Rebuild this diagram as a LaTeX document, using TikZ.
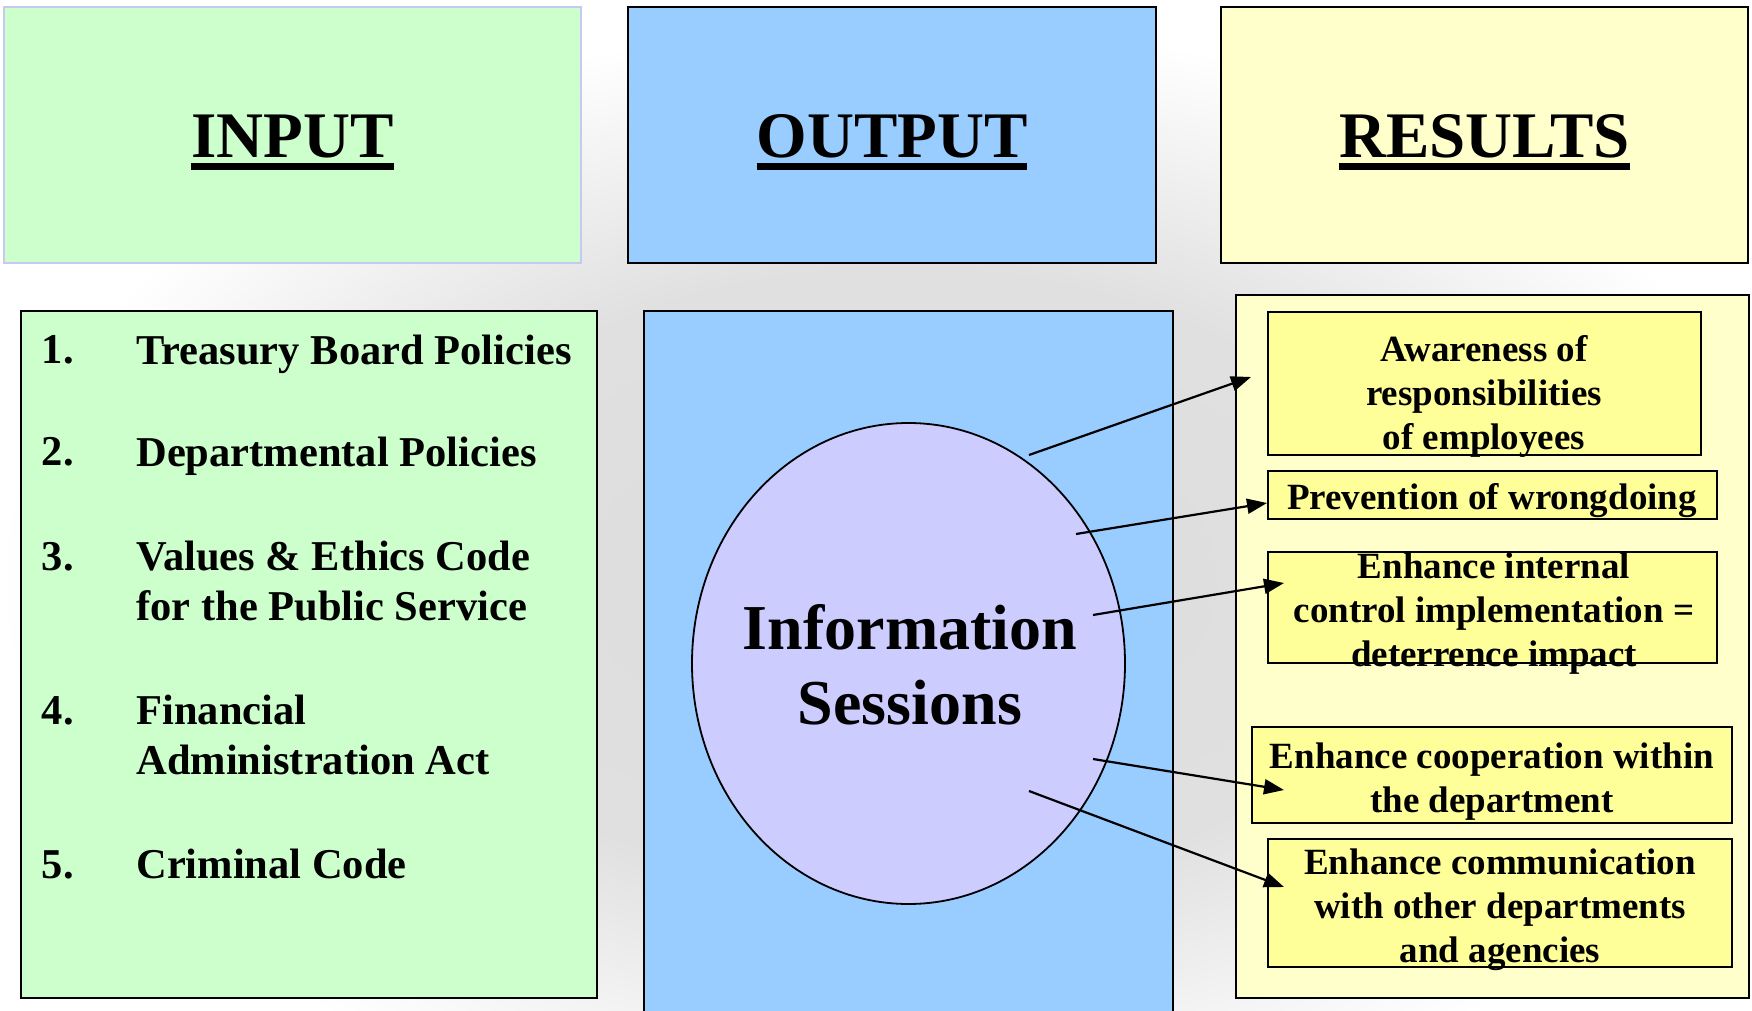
\documentclass[tikz,border=0pt]{standalone}
\usepackage{fontspec}
\setmainfont{Liberation Serif}
\usetikzlibrary{arrows.meta,shapes.geometric}
\definecolor{inpgreen}{HTML}{CCFFCC}
\definecolor{inpedge}{HTML}{C8C8F4}
\definecolor{outblue}{HTML}{99CCFF}
\definecolor{resyellow}{HTML}{FFFFCC}
\definecolor{boxyellow}{HTML}{FFFF99}
\definecolor{sessviolet}{HTML}{CCCCFF}
\newsavebox\ulbox
\newcommand\thickul[1]{\sbox\ulbox{#1}\usebox\ulbox\llap{\rule[-6pt]{\wd\ulbox}{3.4pt}}}
\pgfdeclareradialshading{watermark}{\pgfpoint{0bp}{0bp}}{color(0bp)=(black!14); color(14bp)=(black!12); color(25bp)=(white); color(50bp)=(white)}
\begin{document}
\begin{tikzpicture}[x=0.5pt,y=-0.5pt,
  panel/.style={draw=black, line width=1pt, inner sep=0pt, outer sep=0pt, anchor=north west, rectangle},
  resbox/.style={panel, fill=boxyellow},
  head/.style={font=\fontsize{32.5}{39}\selectfont\bfseries, inner sep=0pt, anchor=base},
  itemtxt/.style={font=\fontsize{21.25}{25}\selectfont\bfseries, inner sep=0pt, align=left, anchor=north west},
  num/.style={font=\fontsize{21.25}{25}\selectfont\bfseries, inner sep=0pt, anchor=base west},
  restext/.style={font=\fontsize{18.5}{22}\selectfont\bfseries, inner sep=0pt, align=center, anchor=north},
  arr/.style={line width=1.1pt, -{Triangle[length=10pt,width=7.5pt]}},
]
\useasboundingbox (0,0) rectangle (1752,1011);
\clip (0,0) rectangle (1752,1011);
\fill[white] (0,0) rectangle (1752,1011);
% faded background watermark
\shade[shading=watermark] (900,580) ellipse [x radius=450pt, y radius=280pt];

% top header boxes
\node[panel, draw=inpedge, fill=inpgreen, minimum width=288.5pt, minimum height=128pt] (inhead) at (4,7) {};
\node[panel, fill=outblue, minimum width=264pt, minimum height=128pt] (outhead) at (628,7) {};
\node[panel, fill=resyellow, minimum width=263.5pt, minimum height=128pt] (reshead) at (1221,7) {};
\node[head] (inlabel) at (292.5,158) {\thickul{INPUT}};
\node[head] (outlabel) at (892,158) {\thickul{OUTPUT}};
\node[head] (reslabel) at (1484.5,158) {\thickul{RESULTS}};

% lower panels
\node[panel, fill=inpgreen, minimum width=288pt, minimum height=343.5pt] (inbody) at (21,311) {};
\node[panel, fill=outblue, minimum width=264.5pt, minimum height=370pt] (outbody) at (644,311) {};
\node[panel, fill=resyellow, minimum width=256.5pt, minimum height=351.5pt] (resbody) at (1236,295) {};

% input list
\node[num] (n1) at (41.5,363.5) {1.};
\node[itemtxt] (i1) at (136,334.5) {Treasury Board Policies};
\node[num] (n2) at (41.5,465.5) {2.};
\node[itemtxt] (i2) at (136,436.5) {Departmental Policies};
\node[num] (n3) at (41.5,570) {3.};
\node[itemtxt] (i3) at (136,541) {Values \& Ethics Code\\for the Public Service};
\node[num] (n4) at (41.5,724) {4.};
\node[itemtxt] (i4) at (136,695) {Financial\\Administration Act};
\node[num] (n5) at (41.5,878) {5.};
\node[itemtxt] (i5) at (136,849) {Criminal Code};

% information sessions
\node[ellipse, draw=black, line width=0.9pt, fill=sessviolet, inner sep=0pt, minimum width=216.5pt, minimum height=240.5pt] (sess) at (908.5,663.5) {};
\node[font=\fontsize{32}{37.5}\selectfont\bfseries, inner sep=0pt, align=center, anchor=north] (sesstxt) at (910,604) {Information\\Sessions};

% result boxes
\node[resbox, minimum width=216.5pt, minimum height=71.5pt] (r1) at (1268,312) {};
\node[resbox, minimum width=224.5pt, minimum height=24pt] (r2) at (1268,471) {};
\node[resbox, minimum width=224.5pt, minimum height=55.5pt] (r3) at (1268,552) {};
\node[resbox, minimum width=240pt, minimum height=48pt] (r4) at (1252,727) {};
\node[resbox, minimum width=232pt, minimum height=64pt] (r5) at (1268,839) {};

% arrows
\coordinate (s1) at (1029,455); \coordinate (t1) at (1251,377);
\coordinate (s2) at (1076,534); \coordinate (t2) at (1267,503);
\coordinate (s3) at (1093,615); \coordinate (t3) at (1284,583);
\coordinate (s4) at (1093,759); \coordinate (t4) at (1284,790);
\coordinate (s5) at (1029,791); \coordinate (t5) at (1284,887);
\draw[arr] (s1) -- (t1);
\draw[arr] (s2) -- (t2);
\draw[arr] (s3) -- (t3);
\draw[arr] (s4) -- (t4);
\draw[arr] (s5) -- (t5);

% result texts
\node[restext] (rt1) at (1484,335) {Awareness of\\responsibilities\\of employees};
\node[restext] (rt2) at (1492,483) {Prevention of wrongdoing};
\node[restext] (rt3) at (1494,552) {Enhance internal\\control implementation =\\deterrence impact};
\node[restext] (rt4) at (1492,742) {Enhance cooperation within\\the department};
\node[restext] (rt5) at (1500,848) {Enhance communication\\with other departments\\and agencies};
\end{tikzpicture}
\end{document}
